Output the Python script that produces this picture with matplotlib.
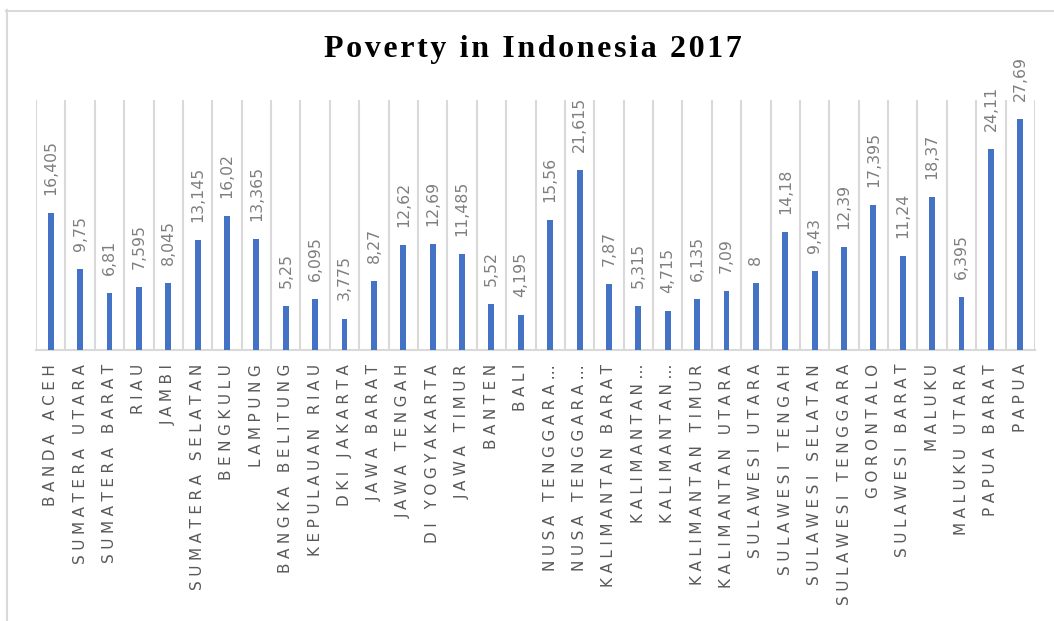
import numpy as np
import matplotlib
matplotlib.use("Agg")
import matplotlib.pyplot as plt
from matplotlib.lines import Line2D

provinces = [
    "BANDA ACEH", "SUMATERA UTARA", "SUMATERA BARAT", "RIAU", "JAMBI",
    "SUMATERA SELATAN", "BENGKULU", "LAMPUNG", "BANGKA BELITUNG",
    "KEPULAUAN RIAU", "DKI JAKARTA", "JAWA BARAT", "JAWA TENGAH",
    "DI YOGYAKARTA", "JAWA TIMUR", "BANTEN", "BALI", "NUSA TENGGARA…",
    "NUSA TENGGARA…", "KALIMANTAN BARAT", "KALIMANTAN…", "KALIMANTAN…",
    "KALIMANTAN TIMUR", "KALIMANTAN UTARA", "SULAWESI UTARA",
    "SULAWESI TENGAH", "SULAWESI SELATAN", "SULAWESI TENGGARA", "GORONTALO",
    "SULAWESI BARAT", "MALUKU", "MALUKU UTARA", "PAPUA BARAT", "PAPUA",
]
poverty = [
    16.405, 9.75, 6.81, 7.595, 8.045, 13.145, 16.02, 13.365, 5.25, 6.095,
    3.775, 8.27, 12.62, 12.69, 11.485, 5.52, 4.195, 15.56, 21.615, 7.87,
    5.315, 4.715, 6.135, 7.09, 8, 14.18, 9.43, 12.39, 17.395, 11.24, 18.37,
    6.395, 24.11, 27.69,
]

grid_col = "#d9d9d9"
bar_col = "#4472c4"


def spaced(s, gap="\u2009\u200a"):
    # wide letter tracking
    return gap.join(s)


fig = plt.figure(figsize=(10.54, 6.21), dpi=100)
ax = fig.add_axes([36 / 1054, 1 - 350 / 621, 999 / 1054, 250 / 621])

x = np.arange(len(provinces))
ax.bar(x, poverty, width=0.2, color=bar_col, zorder=3)

for xi, v in zip(x, poverty):
    ax.annotate(f"{v:g}".replace(".", ","), (xi, v), xytext=(0, 13),
                textcoords="offset points", rotation=90, ha="center",
                va="bottom", fontsize=11.3, color="#7f7f7f")

ax.set_xlim(-0.5, len(provinces) - 0.5)
ax.set_ylim(0, 30)
ax.set_yticks([])
ax.set_xticks(x)
ax.set_xticklabels([spaced(p) for p in provinces], rotation=90,
                   fontsize=11, color="#595959", va="top", ha="center")
ax.tick_params(axis="x", length=0, pad=10)
ax.set_xticks(np.arange(-0.5, len(provinces)), minor=True)
ax.tick_params(axis="x", which="minor", length=0)
ax.grid(axis="x", which="minor", color=grid_col, linewidth=1.5, zorder=0)
for side in ["top", "left", "right"]:
    ax.spines[side].set_visible(False)
ax.spines["bottom"].set_color(grid_col)
ax.spines["bottom"].set_linewidth(1.5)

fig.text(533 / 1054, 1 - 50 / 621, spaced("Poverty in Indonesia 2017", "\u200a"),
         family=["Liberation Serif", "DejaVu Serif"], weight="bold",
         fontsize=23, ha="center", va="center", color="black")

# chart-area border (left and top edges)
fig.add_artist(Line2D([6.5 / 1054, 6.5 / 1054], [0, 1 - 10 / 621],
                      color=grid_col, lw=1.5, transform=fig.transFigure))
fig.add_artist(Line2D([6 / 1054, 1], [1 - 10.5 / 621, 1 - 10.5 / 621],
                      color=grid_col, lw=1.5, transform=fig.transFigure))

fig.savefig("out.png", dpi=100)
